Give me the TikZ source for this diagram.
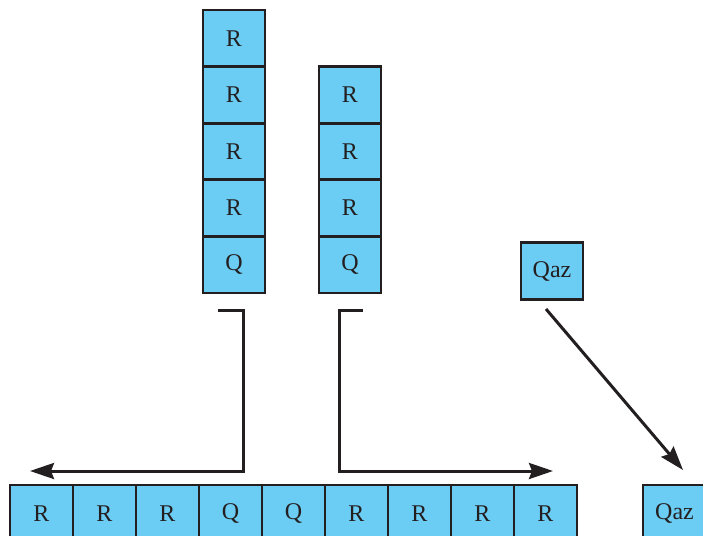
\documentclass[tikz,border=0pt]{standalone}
\usepackage{fontspec}
\setmainfont{Liberation Serif}
\usetikzlibrary{arrows.meta}

\definecolor{cellblue}{HTML}{6CCDF4}
\definecolor{inkdark}{HTML}{231F20}

\tikzset{
    cell/.style={draw=inkdark, line width=1.45pt, fill=cellblue, text=inkdark,
        minimum width=31pt, minimum height=28.3pt, inner sep=0pt,
        font=\fontsize{12pt}{14pt}\selectfont},
    widecell/.style={cell, minimum width=31.5pt},
    mover/.style={draw=inkdark, line width=1.5pt,
        -{Stealth[length=12pt, width=8pt, inset=1.5pt]}}
}

\begin{document}
\begin{tikzpicture}[x=0.5pt, y=-0.5pt]

    \useasboundingbox (0,0) rectangle (703,536);

    % --- Left stack (R R R R Q) ---
    \foreach \lab [count=\i] in {R,R,R,R,Q} {
        \node[cell] (ls\i) at (234, {38.3+56.6*(\i-1)}) {\lab};
    }

    % --- Right stack (R R R Q) ---
    \foreach \lab [count=\i] in {R,R,R,Q} {
        \node[cell] (rs\i) at (350, {94.9+56.6*(\i-1)}) {\lab};
    }

    % --- Single cell ---
    \node[cell] (qtop) at (552, 271) {Qaz};

    % --- Bottom row (merged) ---
    \foreach \lab [count=\i] in {R,R,R,Q,Q,R,R,R,R} {
        \node[widecell] (row\i) at ({41.5+63*(\i-1)}, 513.3) {\lab};
    }
    \node[widecell] (qbot) at (674.5, 513.3) {Qaz};

    % --- Bracket arrows ---
    \coordinate (lstart) at (218, 310);
    \coordinate (lbend) at (243, 310);
    \coordinate (lcorner) at (243, 471);
    \coordinate (lend) at (30, 471);
    \draw[mover] (lstart) -- (lbend) -- (lcorner) -- (lend);

    \coordinate (rstart) at (363, 310);
    \coordinate (rbend) at (339, 310);
    \coordinate (rcorner) at (339, 471);
    \coordinate (rend) at (553, 471);
    \draw[mover] (rstart) -- (rbend) -- (rcorner) -- (rend);

    % --- Diagonal arrow ---
    \coordinate (dstart) at (546, 309);
    \coordinate (dend) at (683, 470);
    \draw[mover] (dstart) -- (dend);

\end{tikzpicture}
\end{document}
